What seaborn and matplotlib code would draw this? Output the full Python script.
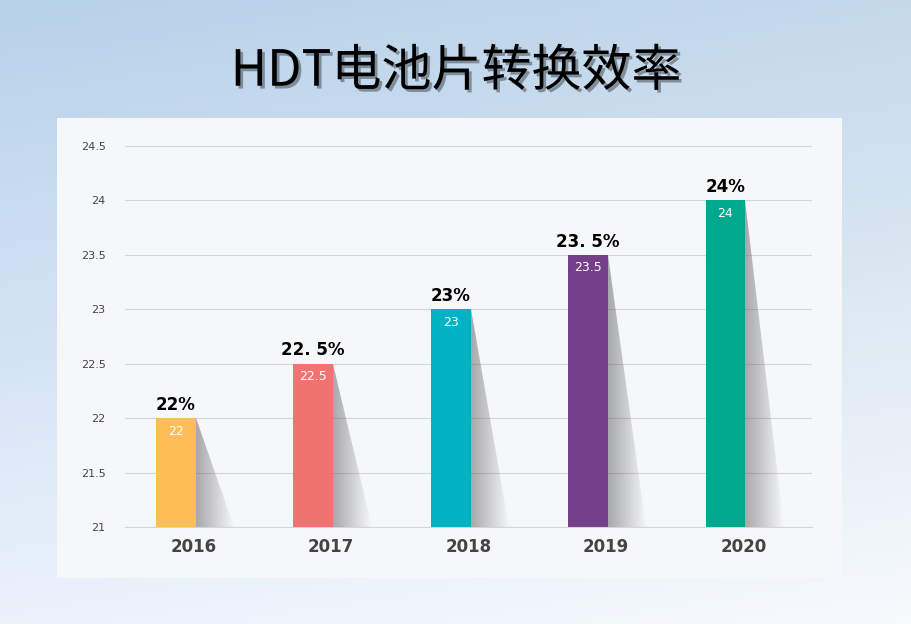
import numpy as np
import pandas as pd
import matplotlib.pyplot as plt
import seaborn as sns
from matplotlib.patches import Polygon
import matplotlib.patheffects as pe
from matplotlib import font_manager

years = ['2016', '2017', '2018', '2019', '2020']
efficiency = [22, 22.5, 23, 23.5, 24]
top_labels = ['22%', '22. 5%', '23%', '23. 5%', '24%']
colors = ['#FDBE55', '#F07372', '#00B2C3', '#763F8A', '#00A98E']
y_ticks = [21, 21.5, 22, 22.5, 23, 23.5, 24, 24.5]

# pick a regular-weight sans CJK face that is really installed
cjk_fonts = [f for f in font_manager.fontManager.ttflist if 'Sans CJK' in f.name]
cjk_fonts.sort(key=lambda f: (not f.name.endswith('SC'),
                              abs((f.weight if isinstance(f.weight, int) else 400) - 400)))
title_font = font_manager.FontProperties(fname=cjk_fonts[0].fname, size=36) if cjk_fonts else \
    font_manager.FontProperties(family='DejaVu Sans', size=36)

fig = plt.figure(figsize=(9.12, 6.24), dpi=100)

# sky background
bg = fig.add_axes([0, 0, 1, 1])
yy = np.linspace(0, 1, 200)[:, None]
xx = np.linspace(0, 1, 300)[None, :]
r = 0.72 + 0.2 * yy + 0.05 * xx
g = 0.82 + 0.13 * yy + 0.03 * xx
b = 0.92 + 0.07 * yy + 0 * xx
img = np.clip(np.dstack([r + 0 * xx, g + 0 * xx, b]), 0, 1)
bg.imshow(img, aspect='auto', extent=[0, 1, 0, 1], origin='upper')
bg.set_axis_off()
bg.text(0.5, 0.885, 'HDT电池片转换效率', ha='center', va='center',
        fontproperties=title_font, color='black', transform=bg.transAxes,
        path_effects=[pe.withSimplePatchShadow(offset=(2, -2), alpha=0.35)])

# white panel
panel = fig.add_axes([57 / 912, 46 / 624, 785 / 912, 460 / 624])
panel.set_facecolor('#F6F7F9')
panel.set_xticks([]); panel.set_yticks([])
for s in panel.spines.values():
    s.set_visible(False)

ax = fig.add_axes([125 / 912, 97 / 624, 687 / 912, 381 / 624])
ax.patch.set_alpha(0)
df = pd.DataFrame({'year': years, 'eff': efficiency})
sns.barplot(data=df, x='year', y='eff', hue='year', palette=colors, width=0.29,
            saturation=1, legend=False, ax=ax, zorder=3)
shift = -0.13
for p in ax.patches:
    p.set_x(p.get_x() + shift)
    p.set_y(21)
    p.set_height(p.get_height() - 21)

# shadows
alpha_grad = np.linspace(0.5, 0, 100).reshape(1, 100)
shadow_rgba = np.dstack([np.full((1, 100), 0.35)] * 3 + [alpha_grad])
for i, v in enumerate(efficiency):
    c = i + shift
    xr = c + 0.145
    poly = Polygon([(xr, v), (xr, 21), (xr + 0.28, 21)], closed=True,
                   facecolor='none', edgecolor='none')
    ax.add_patch(poly)
    im = ax.imshow(shadow_rgba, extent=[xr, xr + 0.28, 21, v], aspect='auto', zorder=2)
    im.set_clip_path(poly)
    ax.text(c, v + 0.04, top_labels[i], ha='center', va='bottom', fontsize=12,
            fontweight='bold', color='black', zorder=4)
    ax.text(c, v - 0.06, f'{v:g}', ha='center', va='top', fontsize=9,
            color='white', zorder=4)
ax.set_ylim(21, 24.5)
ax.set_xlim(-0.5, 4.5)

ax.set_yticks(y_ticks)
ax.set_yticklabels([f'{t:g}' for t in y_ticks], fontsize=8, color='#444444')
ax.tick_params(axis='y', length=0, pad=14)
ax.tick_params(axis='x', length=0, labelsize=12, colors='#444444', pad=8)
for t in ax.get_xticklabels():
    t.set_fontweight('bold')
ax.grid(axis='y', color='#D5D5D5', linewidth=0.8, zorder=0)
ax.set_axisbelow(True)
ax.set_xlabel(''); ax.set_ylabel('')
for s in ['top', 'right', 'left']:
    ax.spines[s].set_visible(False)
ax.spines['bottom'].set_color('#D5D5D5')

fig.savefig('out.png', dpi=100)
